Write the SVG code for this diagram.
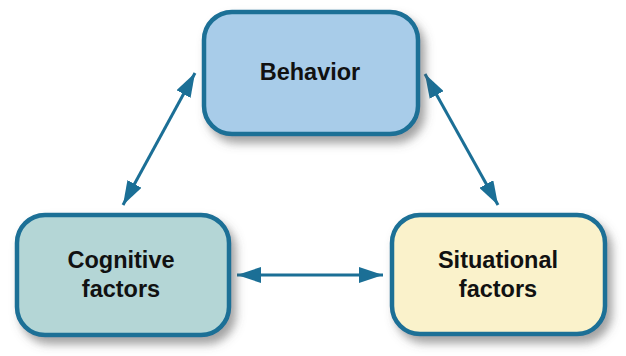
<svg xmlns="http://www.w3.org/2000/svg" width="626" height="356" viewBox="0 0 626 356">
<defs>
<filter id="sh" x="-20%" y="-20%" width="150%" height="150%">
<feDropShadow dx="5" dy="7" stdDeviation="5" flood-color="#555" flood-opacity="0.55"/>
</filter>
<marker id="ah" markerUnits="userSpaceOnUse" refX="24" refY="8" markerWidth="25" markerHeight="16" orient="auto-start-reverse">
<path d="M0,0 L24,8 L0,16 Z" fill="#1b6f96"/>
</marker>
<style>
.box{stroke:#1b6f96;stroke-width:4.5;filter:url(#sh)}
.lbl{font-family:"Liberation Sans",Arial,sans-serif;font-weight:bold;font-size:23.5px;fill:#111;text-anchor:middle}
.con{stroke:#1b6f96;stroke-width:3;fill:none;marker-start:url(#ah);marker-end:url(#ah)}
</style>
</defs>
<rect width="626" height="356" fill="#ffffff"/>
<g id="connectors">
<line class="con" x1="123" y1="205" x2="195" y2="73"/>
<line class="con" x1="425" y1="74" x2="498" y2="205"/>
<line class="con" x1="237" y1="275" x2="383" y2="275"/>
</g>
<g id="behavior">
<rect class="box" x="204" y="12" width="214" height="122" rx="28" fill="#a8cce9"/>
<text class="lbl" x="310" y="80">Behavior</text>
</g>
<g id="cognitive">
<rect class="box" x="17" y="215" width="212" height="120" rx="28" fill="#b4d6d6"/>
<text class="lbl" x="121" y="268">Cognitive</text>
<text class="lbl" x="121" y="297">factors</text>
</g>
<g id="situational">
<rect class="box" x="392" y="215" width="213" height="119" rx="28" fill="#faf2cb"/>
<text class="lbl" x="498" y="268">Situational</text>
<text class="lbl" x="498" y="297">factors</text>
</g>
</svg>
